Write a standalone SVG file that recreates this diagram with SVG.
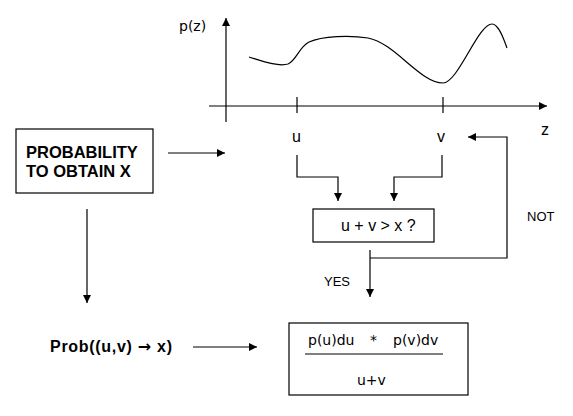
<svg xmlns="http://www.w3.org/2000/svg" width="573" height="416" viewBox="0 0 573 416">
<style>
.ln{stroke:#000;stroke-width:1.2;fill:none}
.box{stroke:#000;stroke-width:1.2;fill:#fff}
.t{font-family:"Liberation Sans",Arial,sans-serif;font-size:16px;fill:#000}
.s{font-family:"Liberation Sans",Arial,sans-serif;font-size:13px;fill:#000}
.b{font-family:"Liberation Sans",Arial,sans-serif;font-size:16.5px;font-weight:bold;fill:#000}
.d{font-family:"DejaVu Sans",Verdana,sans-serif;font-size:14px;fill:#000}
</style>
<defs>
<marker id="ah" viewBox="0 0 10 10" refX="10" refY="5" markerWidth="8" markerHeight="8" markerUnits="userSpaceOnUse" orient="auto">
<path d="M0,0 L10,5 L0,10 z" fill="#000"/>
</marker>
</defs>
<g id="graph">
<line class="ln" x1="226" y1="122" x2="226" y2="18" marker-end="url(#ah)"/>
<line class="ln" x1="209" y1="106" x2="547" y2="106" marker-end="url(#ah)"/>
<line class="ln" x1="297" y1="97" x2="297" y2="113"/>
<line class="ln" x1="443" y1="97" x2="443" y2="113"/>
<path class="ln" d="M249,57 C262,61 278,67 288,64 C296,61 299,47 309,42 C322,36 350,35 368,38 C395,43 420,83 443,83 C458,83 478,24 492,24 C499,24 504,40 507,48"/>
<text class="d" x="179" y="31">p(z)</text>
<text class="t" x="541" y="135">z</text>
</g>
<g id="prob-box">
<rect class="box" x="16" y="129" width="137" height="64"/>
<text class="b" x="26" y="158">PROBABILITY</text>
<text class="b" x="26" y="177">TO OBTAIN X</text>
</g>
<g id="u-label"><text class="t" x="292" y="142">u</text></g>
<g id="v-label"><text class="t" x="437" y="142">v</text></g>
<g id="test-box">
<rect class="box" x="313" y="209" width="121" height="33"/>
<text class="t" x="341" y="231">u + v &gt; x ?</text>
</g>
<g id="prob-uv">
<text class="b" x="50" y="352" style="font-size:16px" textLength="122" lengthAdjust="spacing">Prob((u,v) <tspan style="font-family:'DejaVu Sans',sans-serif">→</tspan> x)</text>
</g>
<g id="result-box">
<rect class="box" x="289" y="323" width="179" height="72"/>
<text class="d" x="308" y="345">p(u)du</text>
<text class="d" x="370" y="345">*</text>
<text class="d" x="393" y="345">p(v)dv</text>
<line class="ln" x1="305" y1="354" x2="443" y2="354"/>
<text class="d" x="357" y="385">u+v</text>
</g>
<g id="connectors">
<line class="ln" x1="168" y1="153" x2="225" y2="153" marker-end="url(#ah)"/>
<polyline class="ln" points="297,155 297,177 338,177 338,201" marker-end="url(#ah)"/>
<polyline class="ln" points="442,155 442,177 394,177 394,201" marker-end="url(#ah)"/>
<line class="ln" x1="370" y1="250" x2="370" y2="297" marker-end="url(#ah)"/>
<polyline class="ln" points="370,258 507,258 507,137 468,137" marker-end="url(#ah)"/>
<line class="ln" x1="87" y1="209" x2="87" y2="303" marker-end="url(#ah)"/>
<line class="ln" x1="193" y1="347" x2="257" y2="347" marker-end="url(#ah)"/>
<text class="s" x="527" y="221">NOT</text>
<text class="s" x="324" y="286">YES</text>
</g>
</svg>
